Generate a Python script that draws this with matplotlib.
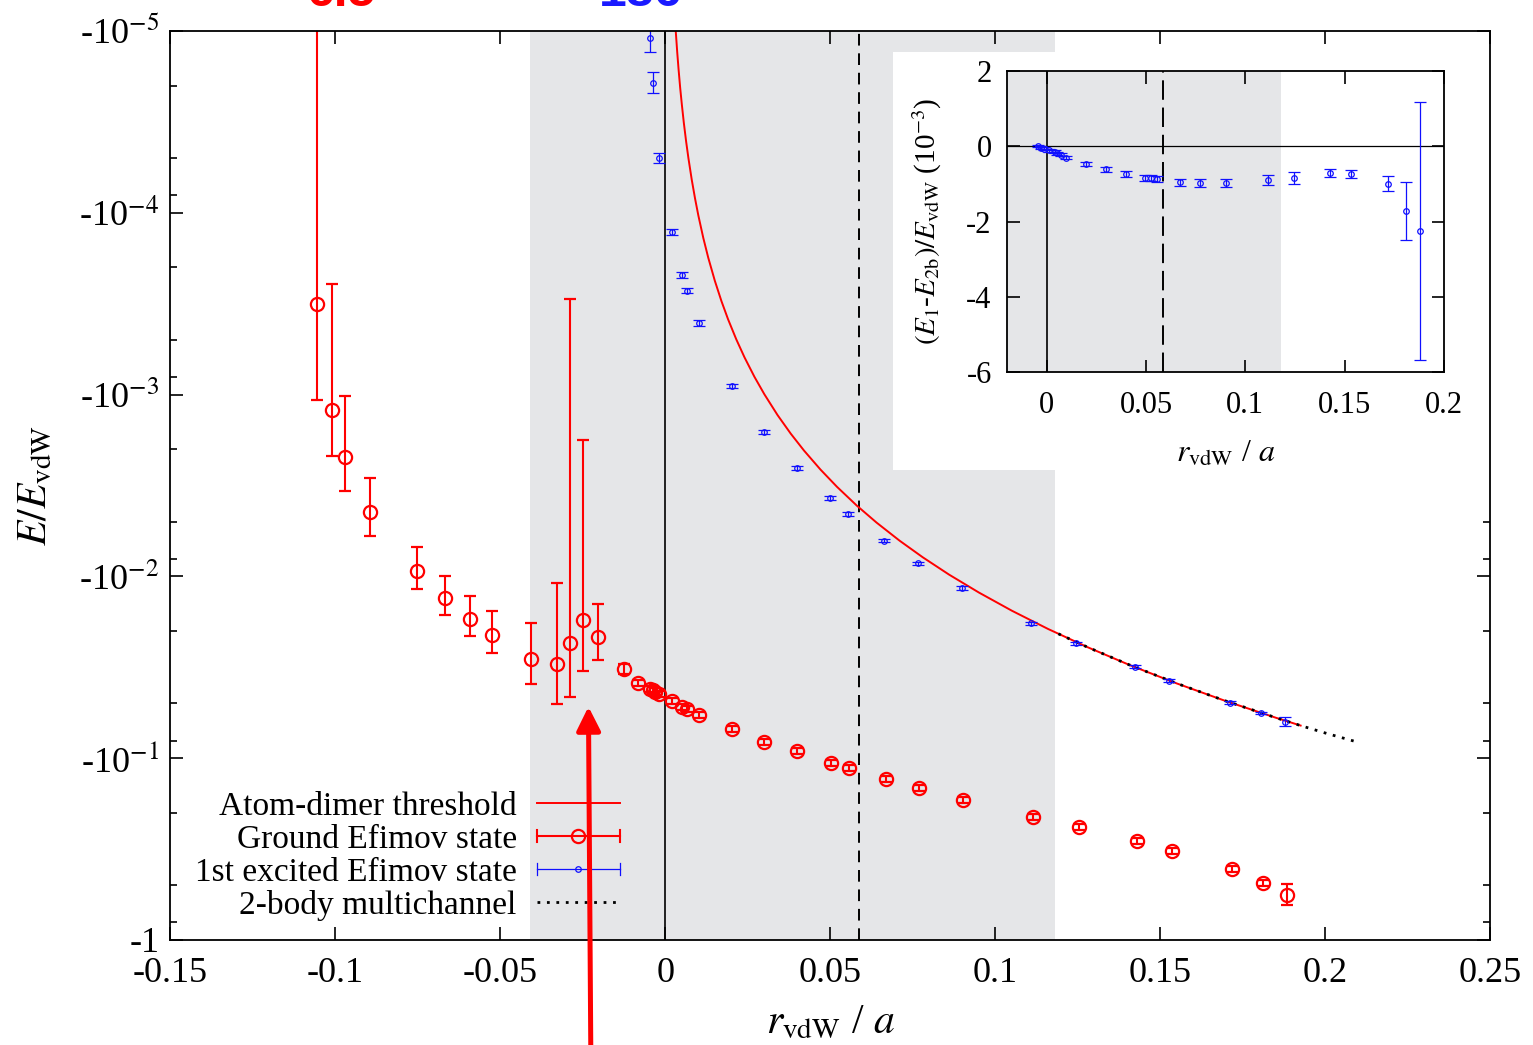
import matplotlib
matplotlib.use("Agg")
import matplotlib.pyplot as plt
from matplotlib.lines import Line2D
from matplotlib.patches import Rectangle
from matplotlib.legend_handler import HandlerBase
from matplotlib.ticker import FixedLocator, NullFormatter

plt.rcParams['font.family'] = ['Liberation Serif', 'DejaVu Serif']
plt.rcParams['mathtext.fontset'] = 'stix'

# ---------------------------------------------------------------- data
# atom-dimer threshold (|E| / E_vdW versus r_vdW / a)
threshold_x = [0.0031, 0.0036, 0.0040, 0.0045, 0.0050, 0.0056, 0.0063, 0.0070,
               0.0080, 0.0090, 0.0100, 0.0115, 0.0130, 0.0150, 0.0170, 0.0190,
               0.0215, 0.0240, 0.0270, 0.0300, 0.0340, 0.0380, 0.0420, 0.0470,
               0.0520, 0.0580, 0.0640, 0.0710, 0.0780, 0.0860, 0.0950, 0.1050,
               0.1160, 0.1280, 0.1410, 0.1550, 0.1700, 0.1850, 0.1925]
threshold_E = [9.71e-6, 1.31e-5, 1.62e-5, 2.06e-5, 2.54e-5, 3.20e-5, 4.06e-5,
               5.02e-5, 6.58e-5, 8.35e-5, 1.035e-4, 1.376e-4, 1.767e-4,
               2.368e-4, 3.063e-4, 3.852e-4, 4.973e-4, 6.25e-4, 7.99e-4,
               9.96e-4, 1.297e-3, 1.641e-3, 2.031e-3, 2.585e-3, 3.216e-3,
               4.079e-3, 5.061e-3, 6.368e-3, 7.854e-3, 9.788e-3, 0.01227,
               0.01545, 0.01948, 0.02455, 0.03091, 0.03883, 0.04864, 0.05993,
               0.06616]

# two-body multichannel calculation
multichannel_x = [0.1191, 0.128, 0.141, 0.155, 0.170, 0.185, 0.1925, 0.2005,
                  0.2086]
multichannel_E = [0.0207, 0.02455, 0.0309, 0.0388, 0.0486, 0.0599, 0.0662,
                  0.0732, 0.0805]

# ground Efimov state
ground_x = [-0.1056, -0.1011, -0.0971, -0.0895, -0.0752, -0.0667, -0.0592,
            -0.0524, -0.0408, -0.0329, -0.0289, -0.0248, -0.0203, -0.0125,
            -0.0084, -0.0046, -0.0038, -0.0030, -0.0018, 0.0019, 0.0050,
            0.0065, 0.0103, 0.0202, 0.0299, 0.0399, 0.0501, 0.0558, 0.0668,
            0.0770, 0.0901, 0.1115, 0.1252, 0.1428, 0.1535, 0.1718, 0.1811,
            0.1885]
ground_E = [3.18e-4, 1.217e-3, 2.21e-3, 4.44e-3, 9.30e-3, 0.01319, 0.01708,
            0.02101, 0.02858, 0.03045, 0.02333, 0.01738, 0.02148, 0.03245,
            0.03846, 0.0418, 0.0421, 0.0430, 0.0443, 0.0484, 0.0521, 0.0536,
            0.0578, 0.069, 0.0814, 0.0912, 0.1067, 0.1138, 0.1302, 0.1466,
            0.1698, 0.2114, 0.2399, 0.2843, 0.325, 0.4055, 0.484, 0.5679]
ground_err = [7.6e-4, 9.7e-4, 1.19e-3, 1.58e-3, 2.44e-3, 3.2e-3, 4.3e-3,
              5.5e-3, 0.0105, 0.0196, 0.02303, 0.0156, 0.0073, 2.2e-3, 1.5e-3,
              1.6e-3, 1.7e-3, 1.7e-3, 1.7e-3, 1.9e-3, 2.0e-3, 2.0e-3, 2.2e-3,
              2.7e-3, 3.2e-3, 3.5e-3, 4e-3, 4.5e-3, 5e-3, 5.7e-3, 6.6e-3,
              8e-3, 9e-3, 1.1e-2, 1.3e-2, 1.6e-2, 1.9e-2, 0.078]

# first excited Efimov state
excited_x = [-0.00464, -0.00382, -0.00182, 0.00194, 0.00497, 0.00667, 0.0102,
             0.0202, 0.0299, 0.0399, 0.0498, 0.0553, 0.0664, 0.0765, 0.0898,
             0.1109, 0.1244, 0.1423, 0.1527, 0.1711, 0.1804, 0.1878]
excited_E = [1.10e-5, 1.94e-5, 5.01e-5, 1.28e-4, 2.20e-4, 2.68e-4, 4.06e-4,
             8.97e-4, 1.61e-3, 2.54e-3, 3.71e-3, 4.54e-3, 6.37e-3, 8.47e-3,
             0.01161, 0.01812, 0.02333, 0.0314, 0.0376, 0.0496, 0.0566, 0.0629]
excited_err = [2.0e-6, 2.6e-6, 3.3e-6, 5e-6, 7.5e-6, 9.6e-6, 1.5e-5, 2.2e-5,
               4e-5, 6e-5, 8e-5, 1e-4, 1.4e-4, 1.8e-4, 2.4e-4, 3.5e-4, 4.5e-4,
               6e-4, 7e-4, 9e-4, 8e-4, 3.5e-3]

# inset: (E_1 - E_2b) / E_vdW in units of 1e-3
inset_x = [-0.0046, -0.003, -0.0016, 0.001, 0.004, 0.0054, 0.007, 0.0099,
           0.0198, 0.0298, 0.0397, 0.0496, 0.0526, 0.0556, 0.0669, 0.077,
           0.090, 0.1115, 0.1246, 0.1425, 0.1532, 0.1716, 0.181, 0.1881]
inset_diff = [0.0, -0.035, -0.06, -0.105, -0.15, -0.19, -0.22, -0.30, -0.475,
              -0.616, -0.74, -0.836, -0.854, -0.88, -0.96, -0.968, -0.986,
              -0.898, -0.836, -0.713, -0.74, -1.0, -1.717, -2.245]
inset_err = [0.03, 0.03, 0.03, 0.04, 0.04, 0.04, 0.05, 0.05, 0.06, 0.06, 0.07,
             0.08, 0.08, 0.08, 0.1, 0.11, 0.11, 0.14, 0.16, 0.1, 0.11, 0.2,
             0.77, 3.43]

# shaded window and marked positions (r_vdW / a)
shade_range = (-0.041, 0.118)
dashed_x = 0.0587
arrow_x = -0.0233
arrow_E = 0.0521

x_ticks = [-0.15, -0.1, -0.05, 0, 0.05, 0.1, 0.15, 0.2, 0.25]
x_tick_labels = ['-0.15', '-0.1', '-0.05', '0', '0.05', '0.1', '0.15', '0.2', '0.25']
y_ticks = [1e-5, 1e-4, 1e-3, 1e-2, 1e-1, 1]
y_tick_labels = ['-10$^{-5}$', '-10$^{-4}$', '-10$^{-3}$', '-10$^{-2}$',
                 '-10$^{-1}$', '-1']
inset_x_ticks = [0, 0.05, 0.1, 0.15, 0.2]
inset_x_labels = ['0', '0.05', '0.1', '0.15', '0.2']
inset_y_ticks = [-6, -4, -2, 0, 2]
inset_y_labels = ['-6', '-4', '-2', '0', '2']

legend_labels = ['Atom-dimer threshold', 'Ground Efimov state',
                 '1st excited Efimov state', '2-body multichannel']
top_notes = ['6.5', '186']

RED = '#ff0000'
BLUE = '#1010ff'
GRAY = '#e5e6e8'
DOT = (0, (1.0, 2.4))


class HandlerErrRow(HandlerBase):
    """Horizontal error-bar style legend key: line, end caps and open circle."""

    def __init__(self, color, lw, ms, mew, cap):
        super().__init__()
        self.color, self.lw, self.ms, self.mew, self.cap = color, lw, ms, mew, cap

    def create_artists(self, legend, orig_handle, xdescent, ydescent,
                       width, height, fontsize, trans):
        x0, x1 = -xdescent, width - xdescent
        y = (height - ydescent) / 2.0
        xm = 0.5 * (x0 + x1)
        arts = [Line2D([x0, x1], [y, y], color=self.color, lw=self.lw)]
        for xc in (x0, x1):
            arts.append(Line2D([xc, xc], [y - self.cap, y + self.cap],
                               color=self.color, lw=self.lw))
        arts.append(Line2D([xm], [y], ls='none', marker='o', ms=self.ms,
                           mfc='none', mec=self.color, mew=self.mew))
        for a in arts:
            a.set_transform(trans)
        return arts


fig = plt.figure(figsize=(15.33, 10.45), dpi=100)
ax = fig.add_axes([0.1111, 0.1005, 0.8611, 0.8699])
ax.set_xlim(-0.15, 0.25)
ax.set_yscale('log')
ax.set_ylim(1, 1e-5)

ax.axvspan(*shade_range, color=GRAY, lw=0, zorder=0.5)
ax.axvline(0, color='black', lw=1.2, zorder=1.5)
ax.axvline(dashed_x, color='black', lw=1.4, dashes=(6, 4), zorder=1.5)

# white panel behind the inset
ax.add_patch(Rectangle((0.5475, 0.517), 0.4525, 0.46, transform=ax.transAxes,
                       facecolor='white', edgecolor='none', zorder=2.3))

ax.plot(multichannel_x, multichannel_E, color='black', lw=2.0, ls=DOT,
        zorder=2.1)
ax.plot(threshold_x, threshold_E, color=RED, lw=1.4, zorder=2.0)

ax.errorbar(ground_x, ground_E, yerr=ground_err, fmt='o', ms=9.5,
            mfc='none', mec=RED, mew=1.6, ecolor=RED, elinewidth=1.5,
            capsize=4.5, capthick=1.5, zorder=2.2)
ax.errorbar(excited_x, excited_E, yerr=excited_err, fmt='o', ms=4,
            mfc='none', mec=BLUE, mew=0.9, ecolor=BLUE, elinewidth=0.9,
            capsize=4.5, capthick=0.9, zorder=2.2)

ax.xaxis.set_major_locator(FixedLocator(x_ticks))
ax.set_xticklabels(x_tick_labels)
ax.yaxis.set_major_locator(FixedLocator(y_ticks))
ax.set_yticklabels(y_tick_labels)
minor_y = [m * 10.0 ** e for e in range(-5, 0) for m in (2, 5, 8)]
ax.yaxis.set_minor_locator(FixedLocator(minor_y))
ax.yaxis.set_minor_formatter(NullFormatter())
ax.xaxis.set_minor_locator(FixedLocator([]))
ax.tick_params(which='both', direction='in', top=True, right=True,
               labelsize=26, width=1.2)
ax.tick_params(which='major', length=9.5)
ax.tick_params(which='minor', length=5)
ax.tick_params(axis='x', pad=12)
ax.tick_params(axis='y', pad=8)
for s in ax.spines.values():
    s.set_linewidth(1.3)

ax.set_xlabel(r'$r_{\rm vdW}$ / $a$', fontsize=30, labelpad=10)
ax.set_ylabel(r'$E/E_{\rm vdW}$', fontsize=30, labelpad=17)

# legend (keys on the right of the labels)
h_thr = Line2D([], [], color=RED, lw=1.4)
h_gnd = Line2D([], [], color=RED)
h_exc = Line2D([], [], color=BLUE)
h_mc = Line2D([], [], color='black', lw=2.0, ls=DOT)
ax.legend([h_thr, h_gnd, h_exc, h_mc], legend_labels,
          handler_map={h_gnd: HandlerErrRow(RED, 1.5, 9.5, 1.6, 4.5),
                       h_exc: HandlerErrRow(BLUE, 0.9, 4, 0.9, 4.5)},
          loc='lower right', bbox_to_anchor=(0.3407, 0.021), frameon=False,
          markerfirst=False, fontsize=24, handlelength=2.5,
          handletextpad=0.6, labelspacing=0.07, borderaxespad=0,
          borderpad=0)

# red arrow rising from the bottom edge
ax.annotate('', xy=(arrow_x, arrow_E), xycoords='data',
            xytext=(-0.0226, 0.0), textcoords=('data', 'figure fraction'),
            arrowprops=dict(arrowstyle='-|>,head_length=0.72,head_width=0.36',
                            color=RED, lw=3.6, mutation_scale=20,
                            shrinkA=0, shrinkB=0),
            annotation_clip=False, zorder=10)

# labels running off the top edge
fig.text(0.2224, 1 - 6.5 / 1045, top_notes[0], color=RED, fontsize=36,
         family='Liberation Sans', weight='bold', ha='center', va='baseline')
fig.text(0.418, 1 - 6.5 / 1045, top_notes[1], color='#1a1aff', fontsize=36,
         family='Liberation Sans', weight='bold', ha='center', va='baseline')

# ---------------------------------------------------------------- inset
ins = fig.add_axes([1007 / 1533, 1 - 372 / 1045, 437 / 1533, 301 / 1045],
                   zorder=5)
ins.set_xlim(-0.02, 0.2)
ins.set_ylim(-6, 2)
ins.axvspan(-0.02, shade_range[1], color=GRAY, lw=0, zorder=0.5)
ins.axvline(0, color='black', lw=1.2, zorder=1.5)
ins.axhline(0, color='black', lw=0.9, zorder=1.5)
ins.axvline(dashed_x, color='black', lw=1.4, dashes=(10, 4), zorder=1.5)
ins.errorbar(inset_x, inset_diff, yerr=inset_err, fmt='o', ms=4,
             mfc='none', mec=BLUE, mew=0.9, ecolor=BLUE, elinewidth=0.9,
             capsize=4.5, capthick=0.9, zorder=2.2)
ins.xaxis.set_major_locator(FixedLocator(inset_x_ticks))
ins.set_xticklabels(inset_x_labels)
ins.yaxis.set_major_locator(FixedLocator(inset_y_ticks))
ins.set_yticklabels(inset_y_labels)
ins.tick_params(direction='in', top=True, right=True, labelsize=22,
                length=9, width=1.2)
ins.tick_params(axis='x', pad=14)
ins.tick_params(axis='y', pad=11)
for s in ins.spines.values():
    s.set_linewidth(1.3)
ins.set_xlabel(r'$r_{\rm vdW}$ / $a$', fontsize=23, labelpad=14)
ins.set_ylabel(r'$(E_1$-$E_{\rm 2b})/E_{\rm vdW}$ (10$^{-3}$)', fontsize=21,
               labelpad=16)

fig.savefig('out.png', dpi=100)
